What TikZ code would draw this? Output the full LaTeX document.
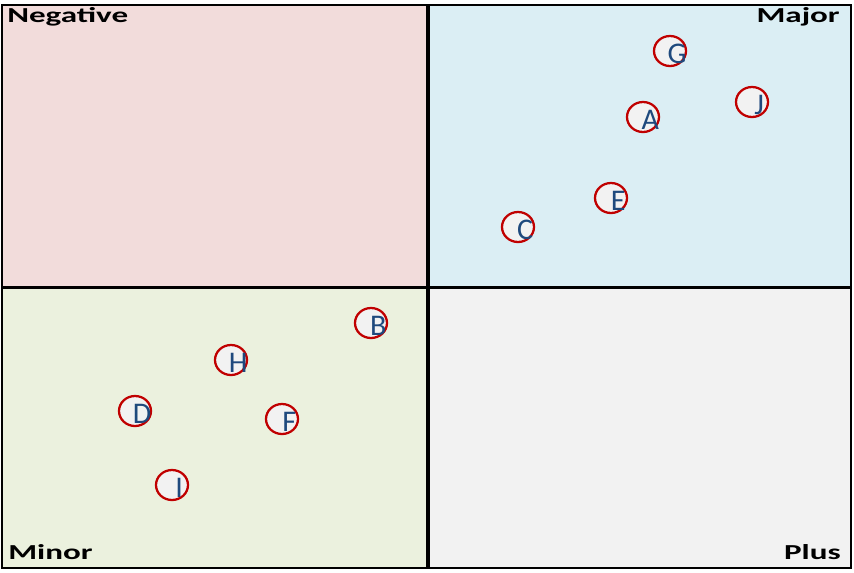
\documentclass[tikz,border=0pt]{standalone}
\usepackage{fontspec}
\setmainfont{Carlito}
\usetikzlibrary{shapes.geometric}
\definecolor{qpink}{HTML}{F2DCDB}
\definecolor{qblue}{HTML}{DBEEF4}
\definecolor{qgreen}{HTML}{EBF1DE}
\definecolor{qgray}{HTML}{F2F2F2}
\definecolor{cred}{HTML}{C00000}
\definecolor{cletter}{HTML}{1F497D}
\newcommand{\widelabel}[1]{\scalebox{1.55}[1]{#1}}
\tikzset{
  qlabel/.style={font=\fontsize{16}{18}\selectfont\bfseries, inner sep=0pt},
  mark ring/.style={ellipse, draw=cred, line width=1.7pt, fill=qgray, minimum width=24pt, minimum height=22.5pt, inner sep=0pt},
  mark letter/.style={font=\fontsize{22.5}{24}\selectfont, text=cletter, inner sep=0pt, anchor=base}
}
\begin{document}
\begin{tikzpicture}[x=0.75pt,y=-0.75pt]
\useasboundingbox (0,0) rectangle (854,572);
\fill[qpink] (2,5) rectangle (428,287);
\fill[qblue] (428,5) rectangle (851,287);
\fill[qgreen] (2,287) rectangle (428,568);
\fill[qgray] (428,287) rectangle (851,568);
\draw[line width=2pt] (2,5) rectangle (851,568);
\draw[line width=2.6pt] (428,5) -- (428,568);
\draw[line width=2.2pt] (2,287.5) -- (851,287.5);
\node[qlabel, anchor=base west] (neg) at (7,22.7) {\widelabel{Negative}};
\node[qlabel, anchor=base east] (maj) at (840,22.5) {\widelabel{Major}};
\node[qlabel, anchor=base west] (min) at (8,559) {\widelabel{Minor}};
\node[qlabel, anchor=base east] (plu) at (841,559) {\widelabel{Plus}};
\foreach \n/\x/\y in {G/670/51, J/752/102, A/643/117, E/611/198, C/518/227, B/371/323, H/231/360, D/135/411, F/282/419, I/172/485}{
  \node[mark ring] (c\n) at (\x,\y) {};
  \node[mark letter] (t\n) at ([xshift=5.4pt,yshift=-9pt]c\n.center) {\n};
}
\end{tikzpicture}
\end{document}
